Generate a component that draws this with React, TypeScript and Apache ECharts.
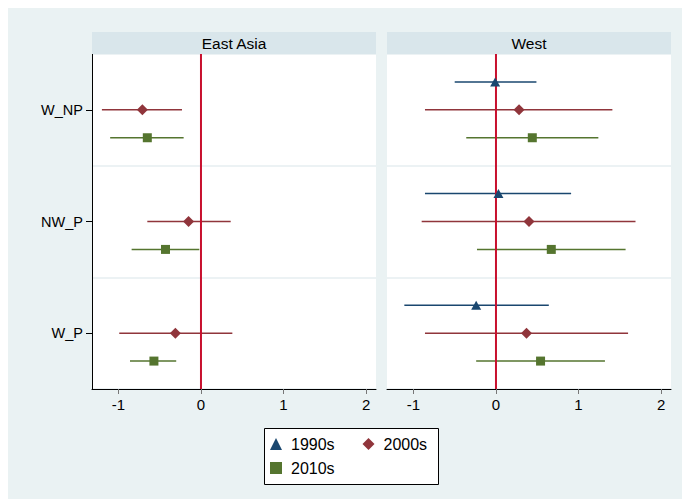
import React, { useEffect, useRef } from "react";
import * as echarts from "echarts";

// ---- data ----
const categories = ["W_NP", "NW_P", "W_P"]; // top to bottom
const panels = ["East Asia", "West"];
const periods = ["1990s", "2000s", "2010s"];
const xTicks = [-1, 0, 1, 2];
const referenceValue = 0;

// East Asia (no 1990s estimates)
const eastAsia2000sEst = [-0.71, -0.15, -0.31];
const eastAsia2000sLo = [-1.2, -0.65, -0.99];
const eastAsia2000sHi = [-0.23, 0.36, 0.38];
const eastAsia2010sEst = [-0.65, -0.43, -0.57];
const eastAsia2010sLo = [-1.1, -0.84, -0.86];
const eastAsia2010sHi = [-0.21, -0.02, -0.3];

// West
const west1990sEst = [-0.01, 0.03, -0.24];
const west1990sLo = [-0.5, -0.86, -1.11];
const west1990sHi = [0.49, 0.91, 0.64];
const west2000sEst = [0.28, 0.4, 0.37];
const west2000sLo = [-0.86, -0.9, -0.86];
const west2000sHi = [1.41, 1.69, 1.6];
const west2010sEst = [0.44, 0.67, 0.54];
const west2010sLo = [-0.36, -0.23, -0.24];
const west2010sHi = [1.24, 1.57, 1.32];

// ---- styling ----
const FONT = "'Liberation Sans', Arial, Helvetica, sans-serif";
const periodColor: Record<string, string> = {
  "1990s": "#1A476F",
  "2000s": "#90353B",
  "2010s": "#55752F",
};
const periodSymbol: Record<string, string> = {
  "1990s": "triangle",
  "2000s": "diamond",
  "2010s": "rect",
};
const periodSymbolSize: Record<string, number | number[]> = {
  "1990s": [10, 9],
  "2000s": 11,
  "2010s": 9,
};
const periodOffset: Record<string, number> = {
  "1990s": 0.25,
  "2000s": 0,
  "2010s": -0.25,
};

type Est = { period: string; est: number[]; lo: number[]; hi: number[] };
const panelData: Est[][] = [
  [
    { period: "2000s", est: eastAsia2000sEst, lo: eastAsia2000sLo, hi: eastAsia2000sHi },
    { period: "2010s", est: eastAsia2010sEst, lo: eastAsia2010sLo, hi: eastAsia2010sHi },
  ],
  [
    { period: "1990s", est: west1990sEst, lo: west1990sLo, hi: west1990sHi },
    { period: "2000s", est: west2000sEst, lo: west2000sLo, hi: west2000sHi },
    { period: "2010s", est: west2010sEst, lo: west2010sLo, hi: west2010sHi },
  ],
];

const gridBoxes = [
  { left: 92, right: 682 - 376, top: 54, bottom: 499 - 389 },
  { left: 387, right: 682 - 671, top: 54, bottom: 499 - 389 },
];

function catY(i: number) {
  return categories.length - 0.5 - i;
}

export default function App() {
  const ref = useRef<HTMLDivElement>(null);
  useEffect(() => {
    if (!ref.current) return;
    const chart = echarts.init(ref.current, undefined, { renderer: "svg" });

    const xAxis: any[] = [];
    const yAxis: any[] = [];
    const grid: any[] = [];
    const series: any[] = [];
    const graphic: any[] = [];

    gridBoxes.forEach((g, pi) => {
      grid.push({ ...g, show: true, backgroundColor: "#ffffff", borderWidth: 0 });
      xAxis.push({
        type: "value",
        gridIndex: pi,
        min: -1.32,
        max: 2.12,
        splitLine: { show: false },
        axisLine: { show: true, onZero: false, lineStyle: { color: "#000", width: 1 } },
        axisTick: {
          show: true,
          length: 5,
          customValues: xTicks,
          lineStyle: { color: "#777" },
        },
        axisLabel: {
          customValues: xTicks,
          color: "#000",
          fontSize: 15,
          fontFamily: FONT,
          margin: 8,
        },
      });
      const isLeft = pi === 0;
      yAxis.push({
        type: "category",
        gridIndex: pi,
        position: "left",
        data: categories.slice().reverse(),
        boundaryGap: true,
        axisLine: { show: isLeft, onZero: false, lineStyle: { color: "#000", width: 1 } },
        axisTick: { show: isLeft, alignWithLabel: true, length: 6, lineStyle: { color: "#000" } },
        axisLabel: {
          show: isLeft,
          color: "#000",
          fontSize: 14.5,
          fontFamily: FONT,
          margin: 9,
        },
        splitLine: { show: true, lineStyle: { color: "#E6EEF1", width: 1.5 } },
      });
      yAxis.push({
        type: "value",
        gridIndex: pi,
        min: 0,
        max: categories.length,
        show: false,
        axisLine: { onZero: false },
        splitLine: { show: false },
      });
      const valueAxisIndex = pi * 2 + 1;

      // CI lines
      panelData[pi].forEach((d) => {
        const color = periodColor[d.period];
        series.push({
          type: "custom",
          name: d.period + " CI",
          xAxisIndex: pi,
          yAxisIndex: valueAxisIndex,
          encode: { x: [0, 1], y: 2 },
          data: d.est.map((_, i) => [d.lo[i], d.hi[i], catY(i) + periodOffset[d.period]]),
          renderItem: (params: any, api: any) => {
            const p1 = api.coord([api.value(0), api.value(2)]);
            const p2 = api.coord([api.value(1), api.value(2)]);
            return {
              type: "line",
              shape: { x1: p1[0], y1: p1[1], x2: p2[0], y2: p2[1] },
              style: { stroke: color, lineWidth: 1.5 },
            };
          },
          z: 2,
        });
      });

      // reference line
      series.push({
        type: "line",
        name: "ref" + pi,
        xAxisIndex: pi,
        yAxisIndex: valueAxisIndex,
        data: [
          [referenceValue, 0],
          [referenceValue, categories.length],
        ],
        symbol: "none",
        lineStyle: { color: "#C8102E", width: 2 },
        z: 3,
      });

      // points
      panelData[pi].forEach((d) => {
        series.push({
          type: "scatter",
          name: d.period,
          xAxisIndex: pi,
          yAxisIndex: valueAxisIndex,
          symbol: periodSymbol[d.period],
          symbolSize: periodSymbolSize[d.period],
          itemStyle: { color: periodColor[d.period], opacity: 1 },
          data: d.est.map((v, i) => [v, catY(i) + periodOffset[d.period]]),
          z: 4,
        });
      });

      // header strip
      const hx = g.left;
      const hw = 682 - g.right - g.left;
      graphic.push({
        type: "rect",
        shape: { x: hx, y: 32, width: hw, height: 22 },
        style: { fill: "#D9E6EB" },
        z: 1,
      });
      graphic.push({
        type: "text",
        x: hx + hw / 2,
        y: 43,
        style: {
          text: panels[pi],
          fill: "#000",
          fontSize: 15.5,
          fontFamily: FONT,
          align: "center",
          verticalAlign: "middle",
        },
        z: 2,
      });
    });

    // white page margins (top / left)
    graphic.push({ type: "rect", shape: { x: 0, y: 0, width: 682, height: 8 }, style: { fill: "#fff" }, z: 10 });
    graphic.push({ type: "rect", shape: { x: 0, y: 0, width: 8, height: 499 }, style: { fill: "#fff" }, z: 10 });
    // legend box
    graphic.push({
      type: "rect",
      shape: { x: 264.5, y: 428.5, width: 174, height: 56 },
      style: { fill: "#fff", stroke: "#000", lineWidth: 1 },
      z: 0,
    });

    const legendPos: Record<string, { left: number; top: number }> = {
      "1990s": { left: 270, top: 436 },
      "2000s": { left: 362.5, top: 436 },
      "2010s": { left: 270, top: 460 },
    };
    const legend = periods.map((p) => ({
      data: [p],
      left: legendPos[p].left,
      top: legendPos[p].top,
      padding: 0,
      itemWidth: 12,
      itemHeight: 12,
      selectedMode: false,
      textStyle: {
        fontSize: 16,
        fontFamily: FONT,
        color: "#000",
        lineHeight: 16,
        padding: [0, 0, 0, 4],
      },
    }));

    chart.setOption({
      animation: false,
      backgroundColor: "#EAF2F3",
      grid,
      xAxis,
      yAxis,
      series,
      legend,
      graphic,
    });
    return () => chart.dispose();
  }, []);
  return (
    <div
      ref={ref}
      style={{ position: "fixed", left: 0, top: 0, width: 682, height: 499 }}
    />
  );
}
